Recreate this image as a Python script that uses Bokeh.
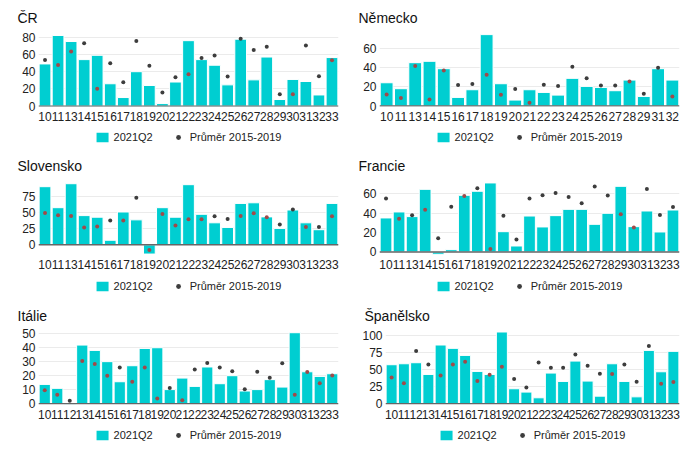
from bokeh.plotting import figure
from bokeh.models import ColumnDataSource, FactorRange, Range1d, FixedTicker, Span, Legend, LegendItem
from bokeh.layouts import column, row
from bokeh.embed import file_html
from bokeh.resources import INLINE

# ---------------- data ----------------
cats_23 = ["10", "11", "13", "14", "15", "16", "17", "18", "19", "20", "21", "22",
           "23", "24", "25", "26", "27", "28", "29", "30", "31", "32", "33"]
cats_24 = ["10", "11", "12", "13", "14", "15", "16", "17", "18", "19", "20", "21", "22",
           "23", "24", "25", "26", "27", "28", "29", "30", "31", "32", "33"]
cats_de = ["10", "11", "13", "14", "15", "16", "17", "18", "19", "20", "21", "22",
           "23", "24", "25", "26", "27", "28", "29", "31", "32"]

series_labels = ["2021Q2", "Průměr 2015-2019"]

cr_2021 = [49, 82, 75, 54, 59, 26, 10, 40, 24, 3, 28, 76, 54, 47.5, 24.7, 77.7, 30.5, 57, 7.7, 31, 28.6, 13, 56.4]
cr_avg = [53.7, 47.9, 63.4, 73, 20.1, 49.9, 27.8, 75.7, 46.8, 15.8, 33.6, 37.1, 56, 58.7, 34.4, 78.3, 65.3, 68.8, 13.9, 13.9, 70.3, 34.8, 53.3]

de_2021 = [24.4, 18.2, 45.4, 46.8, 39.1, 9.1, 17.1, 74.7, 23.4, 6.3, 17.1, 14.3, 11.5, 29, 20.6, 19.5, 16.1, 27.2, 10.1, 39.1, 27.2]
de_avg = [12.2, 8.4, 41.9, 7, 37.3, 22, 23, 32.8, 11.9, 17.8, 3.5, 22.3, 20.9, 41.2, 29, 21.6, 21.6, 25.8, 12.9, 40.1, 10.1]

sk_2021 = [90.3, 57.7, 94.9, 45.4, 42.9, 7.1, 51, 38.8, -14.3, 57.7, 42.9, 93.4, 47.4, 34.2, 27, 64.3, 65.3, 43.4, 25.5, 54.1, 34.2, 23.5, 64.3]
sk_avg = [49.5, 45.9, 44.9, 27, 28.6, 37.8, 37.8, 73, -8.2, 48, 30.1, 39.8, 39.8, 44.4, 40.3, 44.9, 49, 42.9, 31.6, 55, 27.6, 27.6, 44.4]

fr_2021 = [35.2, 41.4, 36.6, 64.8, -2.4, 2.4, 58.6, 62.8, 71.4, 21, 6.2, 37.2, 25.9, 37.6, 44.1, 44.1, 28.6, 40, 67.9, 26.2, 42.4, 20.7, 43.4]
fr_avg = [55.2, 34.5, 37.9, 43.8, 14.1, 46.9, 57.8, 65.9, 3.1, 37.6, 12.8, 55.2, 58.6, 61, 56.9, 50.3, 67.6, 58.3, 39, 25.2, 65.2, 38.3, 46.6]

it_2021 = [13.7, 10.9, -0.5, 41.7, 37.9, 29.9, 15.6, 27, 39.3, 39.8, 10, 18.2, 12.3, 26.1, 14.2, 19.9, 9, 10, 17.1, 11.8, 50.5, 22.7, 19.4, 21.3]
it_avg = [9.5, 6.4, 2.1, 30.3, 28.2, 19.9, 25.8, 15.6, 25.8, 3.6, 11.1, 2.4, 24.4, 28.9, 25.8, 23, 10.2, 22.7, 18.5, 28.7, 6.4, 22.5, 14.5, 20.1]

es_2021 = [57.1, 58.5, 60, 42.9, 85.9, 81, 70.7, 47.3, 42.9, 104.9, 22, 17.1, 8.8, 44.9, 32.7, 62.4, 33.2, 11.2, 58.5, 32.7, 10.2, 78, 46.8, 76.6]
es_avg = [38.5, 30.2, 77.1, 57.6, 41.5, 57.6, 61.5, 33.2, 42.5, 54.1, 36.1, 23.9, 60.5, 52.7, 52.7, 72.2, 55.6, 43.9, 43.4, 57.6, 32.2, 84.4, 29.3, 31.7]

ticks_cr = [0, 20, 40, 60, 80]
ticks_de = [0, 20, 40, 60]
ticks_sk = [0, 25, 50, 75]
ticks_fr = [0, 20, 40, 60]
ticks_it = [0, 10, 20, 30, 40, 50]
ticks_es = [0, 25, 50, 75, 100]

# ---------------- style ----------------
FONT = "Liberation Sans"
BAR = "#00CED1"
DOT_OUT = "#3d3d3d"
DOT_IN = "#A04A4A"


def panel(title, cats, bars, avgs, ticks, yr, left, fw, right, top, leg_h, leg_m):
    colors = []
    for b, a in zip(bars, avgs):
        inside = (0 <= a <= b) if b >= 0 else (b <= a <= 0)
        colors.append(DOT_IN if inside else DOT_OUT)
    src = ColumnDataSource(dict(cat=cats, bar=bars, avg=avgs, color=colors))

    p = figure(x_range=FactorRange(factors=cats, range_padding=0),
               y_range=Range1d(yr[0], yr[1]),
               frame_width=fw, frame_height=76,
               min_border_left=left, min_border_right=right,
               min_border_top=top, min_border_bottom=0,
               output_backend="svg", toolbar_location=None)
    p.outline_line_color = None
    p.background_fill_color = "white"
    p.border_fill_color = "white"

    p.title.text = title
    p.title.text_font = FONT
    p.title.text_font_size = "14px"
    p.title.text_font_style = "normal"
    p.title.text_color = "#111111"
    p.title.align = "left"
    p.title.offset = -21
    p.title.standoff = 10

    p.vbar(x="cat", top="bar", bottom=0, width=0.9, source=src,
           fill_color=BAR, line_color="white", line_width=1)
    p.scatter(x="cat", y="avg", size=4, marker="circle",
              fill_color="color", line_color=None, source=src)

    p.add_layout(Span(location=0, dimension="width", line_color="#666666", line_width=1.5))

    p.xgrid.grid_line_color = None
    p.ygrid.grid_line_color = "#ebebeb"
    p.yaxis.ticker = FixedTicker(ticks=ticks)
    for ax in (p.xaxis, p.yaxis):
        ax.axis_line_color = None
        ax.major_tick_line_color = None
        ax.minor_tick_line_color = None
        ax.major_tick_out = 0
        ax.major_tick_in = 0
        ax.major_label_text_font = FONT
        ax.major_label_text_font_size = "12px"
        ax.major_label_text_color = "#222222"
    p.yaxis.major_label_standoff = 3
    p.xaxis.major_label_standoff = 5

    # legend strip underneath (same data, drawn outside its visible range)
    lf = figure(x_range=p.x_range, y_range=Range1d(10000, 10001),
                frame_width=fw, frame_height=leg_h,
                min_border_left=left, min_border_right=right,
                min_border_top=0, min_border_bottom=0,
                x_axis_location=None, y_axis_location=None,
                output_backend="svg", toolbar_location=None)
    lf.outline_line_color = None
    lf.xgrid.visible = False
    lf.ygrid.visible = False
    lb = lf.vbar(x="cat", top="bar", bottom=0, width=0.9, source=src,
                 fill_color=BAR, line_color=None)
    ld = lf.scatter(x="cat", y="avg", size=4, marker="circle",
                    fill_color="color", line_color=None, source=src)
    grey_idx = colors.index(DOT_OUT) if DOT_OUT in colors else 0
    legend = Legend(items=[LegendItem(label=series_labels[0], renderers=[lb]),
                           LegendItem(label=series_labels[1], renderers=[ld], index=grey_idx)],
                    orientation="horizontal", location="top_center",
                    border_line_color=None, background_fill_alpha=0,
                    padding=0, margin=leg_m, spacing=18,
                    glyph_width=15, glyph_height=12, label_height=12,
                    label_standoff=4,
                    label_text_font=FONT, label_text_font_size="11px",
                    label_text_color="#222222")
    lf.add_layout(legend)
    return column(p, lf)


p1 = panel("ČR", cats_23, cr_2021, cr_avg, ticks_cr, (-0.4, 87.8), 38, 300, 12, 30, 25, 8)
p2 = panel("Německo", cats_de, de_2021, de_avg, ticks_de, (-0.4, 79), 29, 300, 10, 30, 25, 8)
p3 = panel("Slovensko", cats_23, sk_2021, sk_avg, ticks_sk, (-15, 103), 38, 300, 12, 30, 27, 9)
p4 = panel("Francie", cats_23, fr_2021, fr_avg, ticks_fr, (-2.6, 76), 29, 300, 10, 30, 27, 9)
p5 = panel("Itálie", cats_24, it_2021, it_avg, ticks_it, (-0.6, 53.5), 38, 300, 12, 30, 21, 8)
p6 = panel("Španělsko", cats_24, es_2021, es_avg, ticks_es, (-1, 110), 35, 294, 10, 30, 21, 8)

layout = column(row(p1, p2), row(p3, p4), row(p5, p6))

open("out.html", "w").write(file_html(layout, INLINE))
